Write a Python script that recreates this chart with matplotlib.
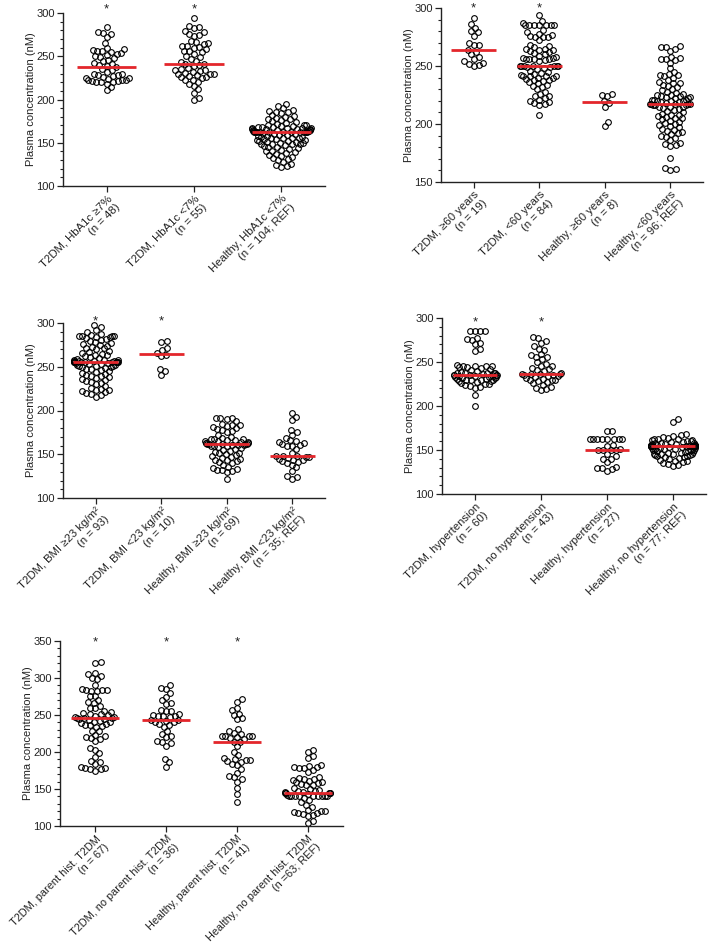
import numpy as np
import matplotlib
matplotlib.use("Agg")
import matplotlib.pyplot as plt
from matplotlib.ticker import MultipleLocator

plt.rcParams["font.family"] = ["Liberation Sans", "DejaVu Sans"]

# ---------------------------------------------------------------------------
# Data (nM)
# ---------------------------------------------------------------------------
hba1c_labels = ["T2DM, HbA1c \u22657%\n(n = 48)", "T2DM, HbA1c <7%\n(n = 55)",
                "Healthy, HbA1c <7%\n(n = 104; REF)"]
hba1c_t2dm_high = [284, 278, 277, 276, 272, 265, 259, 258, 257, 256, 256, 255, 254, 253, 252, 250,
                   249, 248, 246, 244, 242, 241, 240, 239, 237, 235, 234, 232, 230, 229, 228, 228,
                   227, 226, 225, 225, 224, 223, 222, 222, 221, 221, 220, 220, 220, 218, 214, 211]
hba1c_t2dm_low = [294, 285, 284, 283, 279, 278, 276, 275, 273, 268, 266, 265, 264, 262, 262, 261,
                  260, 258, 256, 256, 255, 253, 250, 249, 247, 245, 243, 241, 241, 240, 239, 236,
                  235, 234, 234, 233, 232, 231, 230, 230, 229, 228, 227, 226, 226, 225, 223, 222,
                  220, 218, 216, 212, 208, 202, 200]
hba1c_healthy = [195, 192, 190, 188, 187, 186, 185, 184, 182, 181, 180, 179, 178, 177, 176, 175,
                 174, 173, 172, 171, 170, 170, 169, 169, 168, 168, 168, 167, 167, 167, 167, 166,
                 166, 166, 166, 165, 165, 165, 165, 164, 164, 164, 164, 163, 163, 163, 163, 163,
                 163, 163, 163, 163, 162, 162, 161, 160, 160, 159, 159, 158, 158, 157, 157, 156,
                 156, 155, 155, 154, 154, 153, 153, 152, 152, 151, 151, 150, 150, 149, 149, 148,
                 148, 147, 146, 145, 145, 144, 143, 142, 141, 140, 139, 138, 137, 136, 135, 134,
                 132, 131, 130, 128, 126, 124, 123, 122]

age_labels = ["T2DM, \u226560 years\n(n = 19)", "T2DM, <60 years\n(n = 84)",
              "Healthy, \u226560 years\n(n = 8)", "Healthy, <60 years\n(n = 96; REF)"]
age_t2dm_old = [291, 286, 283, 280, 279, 276, 270, 268, 268, 264, 262, 260, 258, 256, 254, 253,
                252, 251, 250]
age_t2dm_young = [294, 289, 287, 285, 285, 285, 285, 285, 285, 285, 281, 279, 278, 277, 276, 275,
                  275, 275, 272, 268, 267, 266, 265, 265, 264, 264, 263, 262, 261, 260, 259, 258,
                  257, 257, 256, 256, 256, 256, 255, 254, 250, 250, 250, 250, 250, 250, 250, 249,
                  249, 248, 247, 246, 245, 244, 243, 242, 241, 241, 241, 241, 240, 240, 239, 238,
                  238, 237, 236, 235, 234, 233, 232, 230, 228, 226, 224, 224, 222, 221, 220, 219,
                  218, 217, 216, 208]
age_healthy_old = [226, 225, 224, 220, 218, 215, 202, 198]
age_healthy_young = [267, 266, 266, 265, 263, 258, 257, 256, 256, 255, 253, 248, 245, 243, 242,
                     242, 241, 240, 238, 236, 235, 235, 234, 233, 232, 230, 229, 228, 227, 226,
                     225, 225, 224, 224, 223, 223, 222, 222, 221, 221, 221, 220, 220, 220, 219,
                     219, 218, 217, 217, 217, 217, 217, 216, 216, 216, 215, 215, 215, 214, 213,
                     212, 211, 210, 209, 208, 208, 207, 206, 205, 205, 204, 203, 202, 201, 200,
                     199, 198, 197, 196, 195, 194, 193, 192, 191, 190, 189, 188, 186, 184, 183,
                     182, 181, 171, 162, 161, 160]

bmi_labels = ["T2DM, BMI \u226523 kg/m\u00b2\n(n = 93)", "T2DM, BMI <23 kg/m\u00b2\n(n = 10)",
              "Healthy, BMI \u226523 kg/m\u00b2\n(n = 69)", "Healthy, BMI <23 kg/m\u00b2\n(n = 35; REF)"]
bmi_t2dm_high = [298, 295, 292, 290, 288, 286, 285, 285, 285, 285, 284, 284, 283, 282, 281, 280,
                 278, 277, 276, 275, 274, 273, 272, 271, 270, 268, 267, 266, 265, 264, 263, 262,
                 261, 260, 259, 258, 258, 258, 257, 257, 257, 257, 256, 256, 256, 256, 256, 256,
                 255, 255, 255, 255, 254, 254, 253, 253, 252, 252, 251, 251, 251, 250, 250, 249,
                 248, 247, 246, 245, 244, 243, 242, 241, 240, 239, 238, 237, 236, 235, 234, 233,
                 232, 230, 228, 226, 225, 224, 223, 222, 221, 220, 219, 218, 216]
bmi_t2dm_low = [279, 278, 271, 269, 266, 264, 262, 247, 245, 241]
bmi_healthy_high = [192, 192, 191, 190, 188, 185, 184, 183, 182, 181, 180, 179, 178, 177, 175,
                    172, 170, 169, 168, 167, 167, 166, 166, 165, 165, 164, 164, 163, 163, 163,
                    162, 162, 162, 162, 162, 161, 161, 161, 160, 160, 159, 158, 157, 156, 155,
                    154, 153, 152, 151, 150, 149, 148, 147, 146, 145, 144, 143, 142, 141, 140,
                    138, 136, 134, 133, 132, 132, 131, 130, 122]
bmi_healthy_low = [197, 193, 189, 178, 175, 172, 169, 166, 165, 164, 163, 162, 161, 160, 160, 156,
                   152, 148, 148, 148, 147, 147, 146, 145, 144, 143, 142, 141, 140, 138, 135, 131,
                   125, 124, 122]

htn_labels = ["T2DM, hypertension\n(n = 60)", "T2DM, no hypertension\n(n = 43)",
              "Healthy, hypertension\n(n = 27)", "Healthy, no hypertension\n(n = 77; REF)"]
htn_t2dm_yes = [285, 285, 285, 285, 277, 276, 275, 272, 270, 265, 262, 247, 246, 246, 245, 245,
                244, 244, 243, 242, 241, 240, 239, 238, 238, 237, 237, 237, 235, 235, 236, 235,
                235, 235, 235, 234, 234, 233, 233, 233, 232, 232, 231, 231, 230, 230, 229, 229,
                228, 228, 227, 226, 225, 225, 224, 223, 222, 221, 212, 200]
htn_t2dm_no = [278, 277, 274, 272, 268, 265, 264, 259, 258, 256, 256, 253, 250, 248, 246, 245,
               243, 242, 241, 240, 237, 236, 236, 236, 236, 235, 235, 234, 234, 233, 232, 231,
               230, 230, 229, 228, 227, 226, 224, 222, 221, 219, 218]
htn_healthy_yes = [172, 172, 162, 162, 162, 162, 162, 162, 162, 162, 156, 155, 151, 150, 150, 150,
                   150, 146, 143, 140, 140, 136, 131, 130, 129, 128, 126]
htn_healthy_no = [185, 182, 168, 167, 166, 165, 164, 163, 162, 162, 161, 161, 160, 160, 159, 159,
                  158, 158, 158, 157, 157, 157, 156, 156, 156, 156, 155, 155, 155, 155, 155, 155,
                  154, 154, 154, 154, 154, 154, 154, 154, 153, 153, 152, 152, 152, 151, 151, 151,
                  150, 150, 150, 149, 149, 148, 148, 147, 147, 146, 146, 145, 145, 144, 144, 143,
                  143, 142, 142, 141, 140, 139, 138, 137, 136, 135, 134, 133, 132]

fam_labels = ["T2DM, parent hist. T2DM\n(n = 67)", "T2DM, no parent hist. T2DM\n(n = 36)",
              "Healthy, parent hist. T2DM\n(n = 41)", "Healthy, no parent hist. T2DM\n(n =63; REF)"]
fam_t2dm_yes = [322, 320, 307, 305, 303, 300, 298, 291, 285, 284, 284, 284, 283, 283, 276, 276,
                270, 268, 266, 262, 260, 259, 256, 254, 253, 252, 251, 250, 249, 247, 247, 246,
                246, 246, 245, 244, 243, 242, 241, 240, 239, 238, 237, 236, 235, 234, 229, 228,
                223, 221, 220, 219, 218, 215, 205, 203, 198, 193, 188, 187, 184, 180, 179, 178,
                177, 177, 175]
fam_t2dm_no = [290, 287, 285, 280, 275, 270, 266, 265, 257, 256, 255, 251, 250, 249, 248, 248,
               247, 243, 243, 242, 241, 240, 238, 236, 234, 228, 225, 221, 220, 215, 213, 212,
               208, 191, 186, 180]
fam_healthy_yes = [271, 268, 260, 257, 252, 250, 246, 244, 231, 229, 226, 224, 222, 222, 221, 221,
                   220, 219, 218, 214, 214, 208, 200, 196, 192, 190, 189, 189, 188, 187, 184, 183,
                   177, 172, 167, 166, 163, 160, 152, 143, 132]
fam_healthy_no = [203, 200, 195, 192, 183, 181, 180, 180, 179, 178, 176, 173, 166, 165, 164, 163,
                  162, 161, 160, 159, 158, 157, 156, 155, 152, 150, 148, 147, 147, 146, 146, 145,
                  145, 145, 145, 144, 143, 142, 141, 141, 141, 141, 141, 141, 140, 140, 140, 138,
                  135, 132, 129, 126, 122, 120, 120, 119, 118, 117, 116, 115, 113, 107, 104]

# ---------------------------------------------------------------------------
# Layout / style
# ---------------------------------------------------------------------------
W, H, DPI = 708, 952, 100
POINT_D = 5.5          # collision diameter of a circle, px
HALF_W = 0.34          # soft max half-width of a swarm, in category units
MEDIAN_RED = "#e3262b"
INK = "#222222"

panels = [
    # rect = pixel box (left, top, right, bottom); star_y = baseline of the "*"
    dict(groups=[hba1c_t2dm_high, hba1c_t2dm_low, hba1c_healthy], labels=hba1c_labels,
         rect=(63, 13, 325, 186), ylim=(100, 300), stars=[0, 1], star_y=301, xfs=8.2),
    dict(groups=[age_t2dm_old, age_t2dm_young, age_healthy_old, age_healthy_young],
         labels=age_labels, rect=(441, 8, 703, 182), ylim=(150, 300), stars=[0, 1], star_y=297,
         xfs=8.2),
    dict(groups=[bmi_t2dm_high, bmi_t2dm_low, bmi_healthy_high, bmi_healthy_low],
         labels=bmi_labels, rect=(63, 323, 325, 498), ylim=(100, 300), stars=[0, 1],
         star_y=298.5, xfs=8.2),
    dict(groups=[htn_t2dm_yes, htn_t2dm_no, htn_healthy_yes, htn_healthy_no],
         labels=htn_labels, rect=(442, 318, 706, 494), ylim=(100, 300), stars=[0, 1],
         star_y=291.5, xfs=8.2),
    dict(groups=[fam_t2dm_yes, fam_t2dm_no, fam_healthy_yes, fam_healthy_no],
         labels=fam_labels, rect=(60, 641, 343, 826), ylim=(100, 350), stars=[0, 1, 2],
         star_y=344.5, xfs=7.9),
]


def swarm(values, px_per_y, cap_px, d=POINT_D):
    """Greedy beeswarm offsets (px), softly squeezed to stay within cap_px."""
    y = np.asarray(values, float) * px_per_y
    placed = []
    xs = np.zeros(len(y))
    for i in np.argsort(y):
        near = [(px, py) for px, py in placed if abs(py - y[i]) < d]
        cands = [0.0]
        for px, py in near:
            dx = np.sqrt(d * d - (py - y[i]) ** 2)
            cands += [px + dx, px - dx]
        cands.sort(key=abs)
        for c in cands:
            if all((c - px) ** 2 + (y[i] - py) ** 2 >= d * d - 1e-6 for px, py in near):
                xs[i] = c
                break
        placed.append((xs[i], y[i]))
    return cap_px * np.tanh(xs / cap_px)


fig = plt.figure(figsize=(W / DPI, H / DPI), dpi=DPI, facecolor="white")

for p in panels:
    l, t, r, b = p["rect"]
    ax = fig.add_axes([l / W, 1 - b / H, (r - l) / W, (b - t) / H])
    n = len(p["groups"])
    xlim = (-0.5, n - 0.5)
    ax.set_xlim(*xlim)
    ax.set_ylim(*p["ylim"])
    px_per_x = (r - l) / (xlim[1] - xlim[0])
    px_per_y = (b - t) / (p["ylim"][1] - p["ylim"][0])

    for i, vals in enumerate(p["groups"]):
        offs = swarm(vals, px_per_y, HALF_W * px_per_x) / px_per_x
        ax.plot(i + offs, vals, "o", ms=4.1, mfc="none", mec="black", mew=0.8,
                clip_on=False, zorder=2)
        ax.hlines(np.median(vals), i - 0.34, i + 0.34, color=MEDIAN_RED, lw=2.0, zorder=3)

    for i in p["stars"]:
        ax.text(i, p["star_y"], "*", ha="center", va="baseline", fontsize=9.5,
                color=INK, clip_on=False)

    for side in ("top", "right"):
        ax.spines[side].set_visible(False)
    for side in ("left", "bottom"):
        ax.spines[side].set_color(INK)
        ax.spines[side].set_linewidth(1.0)

    ax.yaxis.set_major_locator(MultipleLocator(50))
    ax.yaxis.set_minor_locator(MultipleLocator(10))
    ax.tick_params(axis="y", which="major", length=4, width=0.9, labelsize=8,
                   colors=INK, pad=2)
    ax.tick_params(axis="y", which="minor", length=2.5, width=0.8, colors=INK)
    ax.set_xticks(range(n))
    ax.tick_params(axis="x", length=4, width=0.9, colors=INK, pad=1.5)
    ax.set_xticklabels(p["labels"], rotation=45, ha="right", va="top",
                       rotation_mode="anchor", fontsize=p["xfs"], multialignment="right",
                       color=INK)
    ax.set_ylabel("Plasma concentration (nM)", fontsize=8, color=INK, labelpad=0)

fig.savefig("out.png", dpi=DPI, facecolor="white")
